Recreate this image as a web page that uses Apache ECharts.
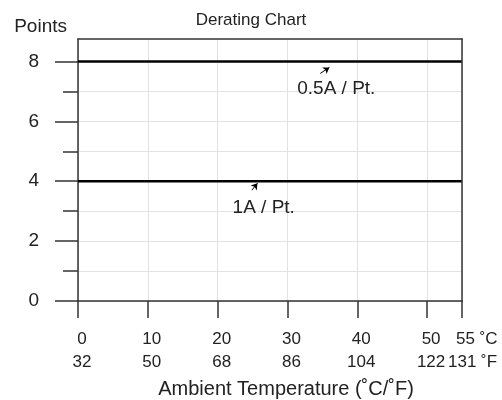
<!DOCTYPE html>
<html><head><meta charset="utf-8">
<script src="https://cdn.jsdelivr.net/npm/echarts@6/dist/echarts.min.js"></script>
<style>html,body{margin:0;padding:0;background:#fff}#c{width:502px;height:400px}</style>
</head><body><div id="c"></div>
<script>
// ---- data ----
const celsiusTicks = [0, 10, 20, 30, 40, 50, 55];
const fahrenheitTicks = [32, 50, 68, 86, 104, 122, 131];
const pointTicks = [0, 2, 4, 6, 8];
const ratingLevels = [8, 4];
const ratingLabels = ['0.5A / Pt.', '1A / Pt.'];
const labelAnchors = [[37.0, 7.1], [26.6, 3.1]];
const arrowTails = [[34.7, 7.6], [24.9, 3.7]];
const arrowTips = [[36.0, 7.8], [25.7, 3.93]];
const pointsMax = 8.75;

const FONT = 'Liberation Sans';
const TXT = '#222';
const FRAME = '#333';
const GRID = '#e2e2e2';
const XFS = 17;

const chart = echarts.init(document.getElementById('c'));
const nT = celsiusTicks.length;
const tMin = celsiusTicks[0], tMax = celsiusTicks[nT - 1];

const series = ratingLevels.map((lv, i) => ({
  type: 'line',
  data: [[tMin, lv], [tMax, lv]],
  symbol: 'none',
  silent: true,
  z: 4,
  lineStyle: { color: '#000', width: 2.5 },
  markLine: {
    silent: true,
    symbol: ['none', 'arrow'],
    symbolSize: 6,
    label: { show: false },
    lineStyle: { color: '#000', width: 1, type: 'solid' },
    data: [[{ coord: arrowTails[i] }, { coord: arrowTips[i] }]]
  },
  markPoint: {
    silent: true,
    data: [{
      coord: labelAnchors[i], symbol: 'circle', symbolSize: 0,
      label: { show: true, position: 'inside', formatter: ratingLabels[i],
        fontSize: 19, color: TXT, fontFamily: FONT }
    }]
  }
}));

// end-of-axis unit labels (55 ˚C / 131 ˚F) attached to the axis end point
series[0].markPoint.data.push(
  { coord: [tMax, 0], symbol: 'circle', symbolSize: 0,
    label: { show: true, position: [-6, 38], align: 'left', verticalAlign: 'middle',
      formatter: celsiusTicks[nT - 1] + ' ˚C', fontSize: XFS, color: TXT, fontFamily: FONT } },
  { coord: [tMax, 0], symbol: 'circle', symbolSize: 0,
    label: { show: true, position: [-14, 61], align: 'left', verticalAlign: 'middle',
      formatter: fahrenheitTicks[nT - 1] + ' ˚F', fontSize: XFS, color: TXT, fontFamily: FONT } }
);

const xFmt = (v) => {
  const i = celsiusTicks.indexOf(v);
  return i < 0 ? '' : v + '\n' + fahrenheitTicks[i];
};

chart.setOption({
  animation: false,
  backgroundColor: '#fff',
  title: { text: 'Derating Chart', left: 'center', top: 12, padding: 0,
    textStyle: { fontSize: 17, fontWeight: 'normal', color: TXT, fontFamily: FONT } },
  grid: { left: 78, right: 40, top: 39, bottom: 99, show: false, outerBoundsMode: 'none', containLabel: false },
  xAxis: [{
    type: 'value', min: tMin, max: tMax, interval: 10,
    axisLine: { show: true, onZero: false, lineStyle: { color: FRAME, width: 1.5 } },
    axisTick: { show: true, inside: false, length: 17, lineStyle: { color: FRAME, width: 1.5 } },
    axisLabel: { margin: 27, fontSize: XFS, lineHeight: 23, color: TXT, fontFamily: FONT,
      customValues: celsiusTicks.slice(0, nT - 1), padding: [0, 0, 0, 8],
      formatter: xFmt },
    splitLine: { show: true, lineStyle: { color: GRID, width: 1 } },
    name: 'Ambient Temperature (˚C/˚F)', nameLocation: 'middle', nameGap: 78,
    nameTextStyle: { fontSize: 20, color: TXT, fontFamily: FONT, padding: [0, 0, 0, 32] }
  }, {
    type: 'value', min: tMin, max: tMax, position: 'top', z: 6,
    axisLine: { show: true, onZero: false, lineStyle: { color: FRAME, width: 1.5 } },
    axisTick: { show: false }, axisLabel: { show: false }, splitLine: { show: false }
  }],
  yAxis: [{
    type: 'value', min: 0, max: pointsMax, interval: 2,
    axisLine: { show: true, onZero: false, lineStyle: { color: FRAME, width: 1.5 } },
    axisTick: { show: true, inside: false, length: 23, customValues: pointTicks,
      lineStyle: { color: FRAME, width: 1.5 } },
    minorTick: { show: true, splitNumber: 2, length: 15, lineStyle: { color: FRAME, width: 1.5 } },
    axisLabel: { customValues: pointTicks, margin: 39, fontSize: 19, color: TXT, fontFamily: FONT },
    splitLine: { show: true, lineStyle: { color: GRID, width: 1 } },
    minorSplitLine: { show: true, lineStyle: { color: GRID, width: 1 } },
    name: 'Points', nameLocation: 'end', nameGap: 3,
    nameTextStyle: { fontSize: 19, color: TXT, fontFamily: FONT, align: 'right', padding: [0, 11, 0, 0] }
  }, {
    type: 'value', min: 0, max: pointsMax, position: 'right', z: 6,
    axisLine: { show: true, onZero: false, lineStyle: { color: FRAME, width: 1.5 } },
    axisTick: { show: false }, axisLabel: { show: false }, splitLine: { show: false }
  }],
  series: series
});
</script></body></html>
